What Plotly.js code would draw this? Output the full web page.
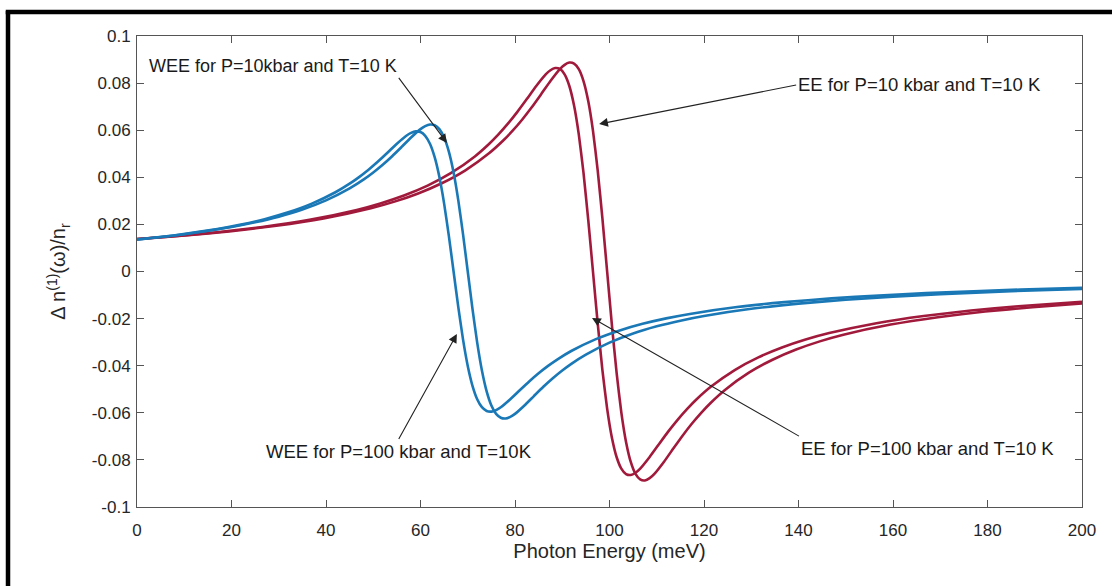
<!DOCTYPE html>
<html>
<head>
<meta charset="utf-8">
<script src="https://cdn.plot.ly/plotly-3.0.1.min.js"></script>
<style>
  html, body { margin: 0; padding: 0; background: #ffffff; }
  #chart { width: 1112px; height: 586px; }
</style>
</head>
<body>
<div id="chart"></div>
<script>
// Refractive index change Δn(1)(ω)/n_r versus photon energy (meV)

// WEE, P = 100 kbar, T = 10 K
const wee100_E = [0, 7, 17, 22, 27, 32, 37, 42, 45, 47, 49, 51, 53, 55, 57, 58, 59, 60, 61, 62, 63, 64, 65, 66, 67,
  68, 69, 70, 71, 72, 73, 74, 75, 76, 77, 79, 81, 83, 85, 87, 89, 92, 97, 102, 107, 112, 117, 127, 137, 147,
  157, 167, 187, 200];
const wee100_n = [0.01358, 0.01511, 0.01801, 0.01990, 0.02222, 0.02512, 0.02881, 0.03365, 0.03729, 0.04009,
  0.04322, 0.04668, 0.05042, 0.05423, 0.05763, 0.05885, 0.05949, 0.05921, 0.05763, 0.05423, 0.04852, 0.04009,
  0.02881, 0.01511, 0,
  -0.01511, -0.02881, -0.04009, -0.04852, -0.05423, -0.05763, -0.05921, -0.05949, -0.05885, -0.05763,
  -0.05423, -0.05042, -0.04668, -0.04322, -0.04009, -0.03729, -0.03365, -0.02881, -0.02512, -0.02222,
  -0.01990, -0.01801, -0.01511, -0.01301, -0.01141, -0.01017, -0.00916, -0.00765, -0.00691];

// WEE, P = 10 kbar, T = 10 K
const wee10_E = [0, 10, 20, 25, 30, 35, 40, 45, 48, 50, 52, 54, 56, 58, 60, 61, 62, 63, 64, 65, 66, 67, 68, 69, 70,
  71, 72, 73, 74, 75, 76, 77, 78, 79, 80, 82, 84, 86, 88, 90, 92, 95, 100, 105, 110, 115, 120, 130, 140, 150,
  160, 170, 185, 200];
const wee10_n = [0.01365, 0.01585, 0.01889, 0.02087, 0.02330, 0.02634, 0.03022, 0.03530, 0.03911, 0.04205,
  0.04533, 0.04896, 0.05289, 0.05688, 0.06044, 0.06172, 0.06239, 0.06210, 0.06044, 0.05688, 0.05089, 0.04205,
  0.03022, 0.01585, 0,
  -0.01585, -0.03022, -0.04205, -0.05089, -0.05688, -0.06044, -0.06210, -0.06239, -0.06172, -0.06044,
  -0.05688, -0.05289, -0.04896, -0.04533, -0.04205, -0.03911, -0.03530, -0.03022, -0.02634, -0.02330,
  -0.02087, -0.01889, -0.01585, -0.01364, -0.01197, -0.01067, -0.00961, -0.00837, -0.00742];

// EE, P = 100 kbar, T = 10 K
const ee100_E = [0, 6.5, 16.5, 26.5, 36.5, 46.5, 51.5, 56.5, 61.5, 66.5, 71.5, 74.5, 76.5, 78.5, 80.5, 82.5,
  84.5, 86.5, 87.5, 88.5, 89.5, 90.5, 91.5, 92.5, 93.5, 94.5, 95.5, 96.5, 97.5, 98.5, 99.5, 100.5, 101.5,
  102.5, 103.5, 104.5, 105.5, 106.5, 108.5, 110.5, 112.5, 114.5, 116.5, 118.5, 121.5, 126.5, 131.5, 136.5,
  141.5, 146.5, 156.5, 166.5, 176.5, 186.5, 200];
const ee100_n = [0.01379, 0.01477, 0.01658, 0.01889, 0.02195, 0.02615, 0.02890, 0.03227, 0.03647, 0.04184,
  0.04887, 0.05415, 0.05822, 0.06277, 0.06779, 0.07323, 0.07876, 0.08369, 0.08547, 0.08639, 0.08599,
  0.08369, 0.07876, 0.07047, 0.05822, 0.04184, 0.02195, 0,
  -0.02195, -0.04184, -0.05822, -0.07047, -0.07876, -0.08369, -0.08599, -0.08639, -0.08547, -0.08369,
  -0.07876, -0.07323, -0.06779, -0.06277, -0.05822, -0.05415, -0.04887, -0.04184, -0.03647, -0.03227,
  -0.02890, -0.02615, -0.02195, -0.01889, -0.01658, -0.01477, -0.01287];

// EE, P = 10 kbar, T = 10 K
const ee10_E = [0, 9.5, 19.5, 29.5, 39.5, 49.5, 54.5, 59.5, 64.5, 69.5, 74.5, 77.5, 79.5, 81.5, 83.5, 85.5,
  87.5, 89.5, 90.5, 91.5, 92.5, 93.5, 94.5, 95.5, 96.5, 97.5, 98.5, 99.5, 100.5, 101.5, 102.5, 103.5, 104.5,
  105.5, 106.5, 107.5, 108.5, 109.5, 111.5, 113.5, 115.5, 117.5, 119.5, 121.5, 124.5, 129.5, 134.5, 139.5,
  144.5, 149.5, 159.5, 169.5, 179.5, 189.5, 200];
const ee10_n = [0.01374, 0.01517, 0.01702, 0.01940, 0.02254, 0.02685, 0.02967, 0.03314, 0.03746, 0.04297,
  0.05019, 0.05561, 0.05979, 0.06446, 0.06962, 0.07520, 0.08088, 0.08594, 0.08777, 0.08872, 0.08830,
  0.08594, 0.08088, 0.07237, 0.05979, 0.04297, 0.02254, 0,
  -0.02254, -0.04297, -0.05979, -0.07237, -0.08088, -0.08594, -0.08830, -0.08872, -0.08777, -0.08594,
  -0.08088, -0.07520, -0.06962, -0.06446, -0.05979, -0.05561, -0.05019, -0.04297, -0.03746, -0.03314,
  -0.02967, -0.02685, -0.02254, -0.01940, -0.01702, -0.01517, -0.01360];

// Tick positions and labels
const xTicks = [0, 20, 40, 60, 80, 100, 120, 140, 160, 180, 200];
const yTicks = [-0.1, -0.08, -0.06, -0.04, -0.02, 0, 0.02, 0.04, 0.06, 0.08, 0.1];
const yTickText = ['-0.1', '-0.08', '-0.06', '-0.04', '-0.02', '0', '0.02', '0.04', '0.06', '0.08', '0.1'];

// Curve labels
const labelWee10 = 'WEE for P=10kbar and T=10 K';
const labelEe10 = 'EE for P=10 kbar and T=10 K';
const labelWee100 = 'WEE for P=100 kbar and T=10K';
const labelEe100 = 'EE for P=100 kbar and T=10 K';

const BLUE = '#1a78b6';
const RED = '#a11a3c';
const FONT = '"Liberation Sans", Arial, Helvetica, sans-serif';

function curve(x, y, color, name) {
  return {
    x: x, y: y, type: 'scatter', mode: 'lines', name: name,
    line: { color: color, width: 2.6, shape: 'spline', smoothing: 0.5 },
    hoverinfo: 'x+y'
  };
}

const traces = [
  curve(ee10_E, ee10_n, RED, 'EE 10 kbar'),
  curve(ee100_E, ee100_n, RED, 'EE 100 kbar'),
  curve(wee10_E, wee10_n, BLUE, 'WEE 10 kbar'),
  curve(wee100_E, wee100_n, BLUE, 'WEE 100 kbar')
];

// Label with an arrow: (ax, ay) is the arrow tail, bound to the given side of the text box
function callout(text, x, y, ax, ay, xanchor, yanchor, size) {
  return {
    text: text, x: x, y: y, ax: ax, ay: ay,
    xref: 'x', yref: 'y', axref: 'x', ayref: 'y',
    xanchor: xanchor, yanchor: yanchor,
    showarrow: true, arrowhead: 2, arrowsize: 1.6, arrowwidth: 1.1, arrowcolor: '#222222',
    standoff: 0, startstandoff: 0,
    font: { family: FONT, size: size, color: '#1a1a1a' }
  };
}

const axisCommon = {
  showline: true, linecolor: '#555555', linewidth: 1, mirror: 'ticks',
  ticks: 'inside', ticklen: 7, tickwidth: 1, tickcolor: '#555555',
  showgrid: false, zeroline: false,
  tickfont: { family: FONT, size: 17, color: '#262626' }
};

const layout = {
  width: 1112, height: 586,
  margin: { l: 137, r: 30, t: 36, b: 79 },
  paper_bgcolor: '#ffffff', plot_bgcolor: '#ffffff',
  showlegend: false,
  xaxis: Object.assign({}, axisCommon, {
    range: [0, 200], tickvals: xTicks, ticklabelstandoff: 8,
    title: { text: 'Photon Energy (meV)', font: { family: FONT, size: 20, color: '#262626' }, standoff: 4 }
  }),
  yaxis: Object.assign({}, axisCommon, {
    range: [-0.1, 0.1], tickvals: yTicks, ticktext: yTickText, ticklabelstandoff: 2,
    title: { text: 'Δ n<sup>(1)</sup>(ω)/n<sub>r</sub>', font: { family: FONT, size: 20, color: '#262626' }, standoff: 20 }
  }),
  annotations: [
    callout(labelWee10, 65.6, 0.0546, 55.4, 0.0822, 'right', 'bottom', 18),
    callout(labelEe10, 97.8, 0.0626, 139.5, 0.0792, 'left', 'middle', 18.5),
    callout(labelWee100, 67.7, -0.0265, 55.4, -0.0711, 'center', 'top', 18.5),
    callout(labelEe100, 96.3, -0.0197, 140.1, -0.0699, 'left', 'top', 18.5)
  ],
  shapes: [
    // heavy frame lines along the left and top edges
    { type: 'line', xref: 'paper', yref: 'paper', x0: -0.1365, x1: -0.1365, y0: 1.0531, y1: -0.25,
      line: { color: '#000000', width: 4.5 } },
    { type: 'line', xref: 'paper', yref: 'paper', x0: -0.1389, x1: 1.05, y0: 1.0510, y1: 1.0510,
      line: { color: '#000000', width: 4.5 } }
  ]
};

Plotly.newPlot('chart', traces, layout, { displayModeBar: false, staticPlot: true });
</script>
</body>
</html>
